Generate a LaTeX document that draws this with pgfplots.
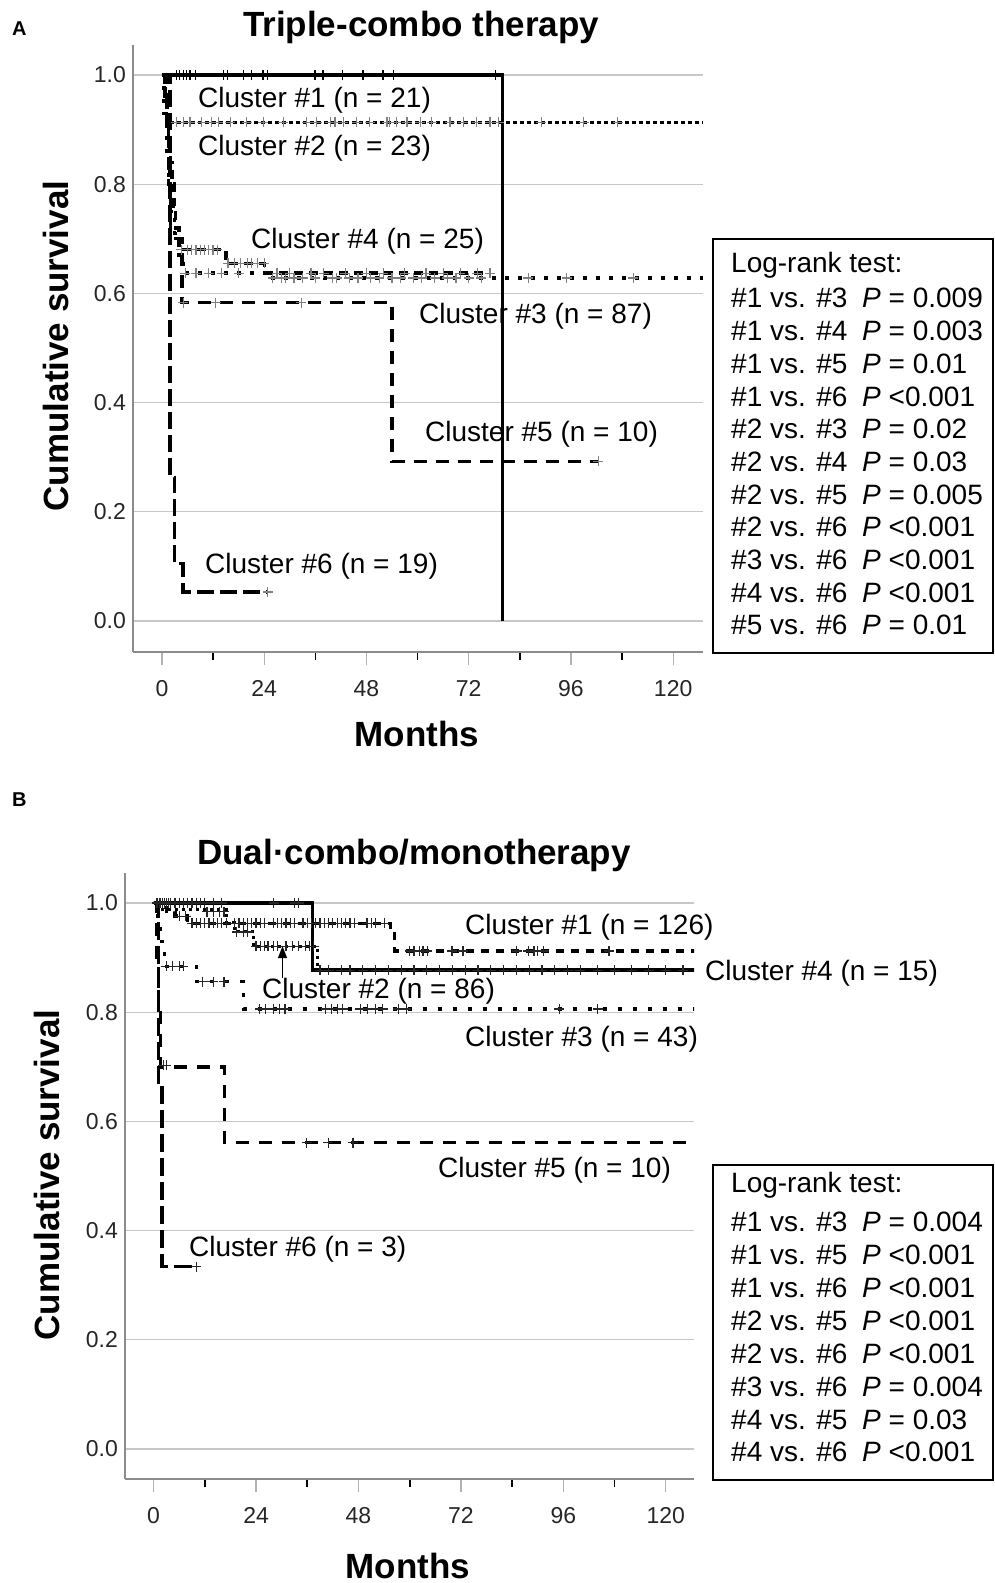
\documentclass[border=0pt]{standalone}
\usepackage{fontspec}
\setmainfont{Liberation Sans}
\usepackage{pgfplots}
\pgfplotsset{compat=1.18}
\usetikzlibrary{arrows.meta}

\newcommand{\fs}[1]{\fontsize{#1pt}{#1pt}\selectfont}

% common look of both survival panels (1pt = 1px of the reference)
\pgfplotsset{
  km/.style={
    scale only axis,
    axis x line*=bottom, axis y line*=left,
    axis line style={-, draw=black!45, line width=1.6pt},
    xtick={0,24,48,72,96,120}, minor xtick={12,36,60,84,108},
    ytick={0,0.2,0.4,0.6,0.8,1.0},
    ymajorgrids, grid style={black!22, line width=1.3pt},
    tick align=outside, major tick length=13pt, minor tick length=8pt,
    major x tick style={draw=black!30, line width=1.3pt},
    minor x tick style={draw=black, line width=1.6pt},
    y tick style={draw=none},
    tick label style={font=\fs{23}, text=black!85, inner sep=0pt},
    /pgf/number format/assume math mode=true,
    y tick label style={/pgf/number format/fixed, /pgf/number format/fixed zerofill, /pgf/number format/precision=1},
    xticklabel shift=15pt, yticklabel shift=-6pt,
  },
  step/.style={const plot, black, line width=3.4pt, line cap=butt, line join=miter},
  cens/.style={only marks, mark=+, mark size=5pt, mark options={solid, line width=1.2pt}, #1},
  cens/.default={black!50},
}

\begin{document}
\begin{tikzpicture}

% ---------------- panel A ----------------
\begin{axis}[km, at={(133pt,931pt)}, anchor=south west, width=570pt, height=607pt,
  xmin=-6.8, xmax=127, ymin=-0.057, ymax=1.055]
% cluster 1
\addplot[step] coordinates {(0,1) (80,0)};
% cluster 2
\addplot[step, dash pattern=on 4pt off 3pt, line width=2.8pt] coordinates {(0,1) (0.5,0.957) (1.2,0.913) (127,0.913)};
% cluster 3
\addplot[step, dash pattern=on 4pt off 9pt] coordinates {(0,1) (0.5,0.93) (1,0.86) (1.5,0.80) (2,0.75) (3,0.71) (4,0.67) (5,0.637) (25,0.628) (127,0.628)};
% cluster 4
\addplot[step, dash pattern=on 9pt off 6pt] coordinates {(0,1) (0.7,0.96) (1.2,0.92) (1.6,0.88) (2,0.84) (2.4,0.80) (2.8,0.76) (3.2,0.72) (4,0.68) (15,0.655) (24,0.637) (77,0.637)};
% cluster 5
\addplot[step, dash pattern=on 13pt off 9pt] coordinates {(0,1) (1,0.9) (1.5,0.8) (2,0.7) (4.7,0.583) (54,0.292) (102.4,0.292)};
% cluster 6
\addplot[step, dash pattern=on 17pt off 6pt] coordinates {(0,1) (1.9,0.263) (3,0.105) (4.9,0.053) (24.8,0.053)};
% censoring marks
\addplot[cens=black] coordinates {(3.4,1) (4.2,1) (5.0,1) (5.8,1) (6.6,1) (7.8,1) (14.4,1) (15.3,1) (19.1,1) (21.1,1) (23.7,1) (24.7,1) (35.9,1) (37.8,1) (42.3,1) (47.2,1) (51.9,1) (54.3,1) (78.2,1)};
\addplot[cens] coordinates {(3.4,0.913) (5.0,0.913) (6.6,0.913) (9.3,0.913) (11.7,0.913) (13.2,0.913) (16.0,0.913) (19.9,0.913) (23.8,0.913) (28.5,0.913) (34.0,0.913) (36.3,0.913) (39.5,0.913) (40.6,0.913) (42.6,0.913) (45.7,0.913) (48.8,0.913) (52.8,0.913) (53.5,0.913) (55.0,0.913) (57.5,0.913) (60.6,0.913) (63.3,0.913) (67.6,0.913) (70.7,0.913) (73.9,0.913) (77.0,0.913) (79.0,0.913) (89,0.913) (99,0.913) (107,0.913)};
\addplot[cens] coordinates {(5.5,0.637) (8,0.637) (11,0.637) (14,0.637) (18,0.637) (26,0.628) (28,0.628) (29,0.628) (31,0.628) (33,0.628) (36,0.628) (40,0.628) (41,0.628) (44,0.628) (46,0.628) (49,0.628) (51,0.628) (54,0.628) (56,0.628) (59,0.628) (61,0.628) (64,0.628) (67,0.628) (69,0.628) (72,0.628) (75,0.628) (86,0.628) (95,0.628) (110.6,0.628)};
\addplot[cens] coordinates {(4.5,0.68) (6,0.68) (7,0.68) (8,0.68) (9,0.68) (10,0.68) (11,0.68) (12,0.68) (13,0.68) (15.5,0.655) (17,0.655) (18.5,0.655) (20,0.655) (21,0.655) (22.5,0.655) (24,0.655) (27,0.637) (30,0.637) (35,0.637) (38,0.637) (43,0.637) (48,0.637) (52,0.637) (57,0.637) (62,0.637) (66,0.637) (70,0.637) (74,0.637) (77,0.637)};
\addplot[cens] coordinates {(5,0.583) (12.6,0.583) (32.7,0.583) (102.4,0.292)};
\addplot[cens] coordinates {(24.8,0.053)};
\end{axis}

% ---------------- panel B ----------------
\begin{axis}[km, at={(125pt,104pt)}, anchor=south west, width=569pt, height=606pt,
  xmin=-6.7, xmax=126.6, ymin=-0.055, ymax=1.055]
% cluster 4
\addplot[step] coordinates {(0,1) (37.2,0.877) (127,0.877)};
% cluster 1
\addplot[step, dash pattern=on 8pt off 7pt] coordinates {(0,1) (1,0.992) (3,0.984) (5,0.976) (8,0.963) (55.5,0.95) (56.5,0.912) (127,0.912)};
% cluster 2
\addplot[step, dash pattern=on 3pt off 4pt, line width=3pt] coordinates {(0,1) (2,0.988) (17,0.965) (19,0.947) (23.5,0.921) (38.5,0.877) (127,0.877)};
% cluster 3
\addplot[step, dash pattern=on 4pt off 11pt] coordinates {(0,1) (0.5,0.977) (1,0.953) (1.5,0.93) (2,0.907) (2.5,0.884) (10,0.856) (21,0.806) (127,0.806)};
% cluster 5
\addplot[step, dash pattern=on 13pt off 10pt] coordinates {(0,1) (0.8,0.9) (1.2,0.8) (1.6,0.7) (16.6,0.561) (127,0.561)};
% cluster 6
\addplot[step, dash pattern=on 18pt off 6pt] coordinates {(0,1) (1.2,0.667) (2,0.334) (10,0.334)};
% censoring marks
\addplot[cens=black!85] coordinates {(0.8,1) (1.5,1) (2,1) (2.5,1) (3,1) (3.5,1) (4,1) (5,1) (6,1) (7,1) (8,1) (9,1) (10,1) (11,1) (12,1) (14,1) (16,1) (28.1,1) (33.1,1) (34,1)};
\addplot[cens=black!85] coordinates {(39,0.877) (41,0.877) (44,0.877) (46,0.877) (49,0.877) (52,0.877) (55,0.877) (58,0.877) (61,0.877) (64,0.877) (67,0.877) (70,0.877) (73,0.877) (76,0.877) (79,0.877) (82,0.877) (85,0.877) (88,0.877) (91,0.877) (94,0.877) (97,0.877) (100,0.877) (104,0.877) (108,0.877) (112,0.877) (116,0.877) (120,0.877) (124,0.877)};
\addplot[cens=black!85] coordinates {(6,0.976) (7.5,0.976) (9,0.963) (10,0.963) (11,0.963) (12,0.963) (13,0.963) (14,0.963) (15,0.963) (16,0.963) (17,0.963) (19,0.963) (20,0.963) (21,0.963) (22,0.963) (23,0.963) (24,0.963) (25,0.963) (26,0.963) (28,0.963) (29,0.963) (30,0.963) (31,0.963) (32,0.963) (33,0.963) (35,0.963) (36,0.963) (37,0.963) (38,0.963) (39,0.963) (40,0.963) (41,0.963) (42,0.963) (43,0.963) (44,0.963) (45,0.963) (46,0.963) (47,0.963) (50,0.963) (51,0.963) (52,0.963) (54,0.963)};
\addplot[cens=black!85] coordinates {(60,0.912) (61,0.912) (62.3,0.912) (63.1,0.912) (64.1,0.912) (69.9,0.912) (72.5,0.912) (85.1,0.912) (87.8,0.912) (89.1,0.912) (90,0.912) (91.4,0.912) (106.7,0.912)};
\addplot[cens=black!85] coordinates {(12.5,0.984) (14,0.984) (15.5,0.984) (16.5,0.984) (19.5,0.947) (21,0.947) (22,0.947) (24,0.921) (25,0.921) (26,0.921) (26.8,0.921) (28,0.921) (29,0.921) (31,0.921) (32.5,0.921) (34,0.921) (35.5,0.921) (36.5,0.921) (37.5,0.921)};
\addplot[cens=black!85] coordinates {(3,0.884) (4.5,0.884) (6,0.884) (7,0.884) (11.5,0.856) (14,0.856) (16.5,0.856) (24.9,0.806) (26.3,0.806) (28.1,0.806) (29.5,0.806) (30.8,0.806) (40.3,0.806) (41.6,0.806) (43,0.806) (44.3,0.806) (48.4,0.806) (50.1,0.806) (51.9,0.806) (53.7,0.806) (57.3,0.806) (59.2,0.806) (95,0.806) (104,0.806)};
\addplot[cens=black!85] coordinates {(2.3,0.703) (3,0.703) (35.9,0.561) (40.9,0.561) (46.7,0.561) (10,0.334)};
\draw[-{Triangle[length=12pt,width=9pt]}, line width=1.3pt] (axis cs:30.2,0.863) -- (axis cs:30.2,0.921);
\end{axis}

% ---------------- texts ----------------
\node[anchor=base west, inner sep=0pt, font=\fs{20}\bfseries] at (12pt,1547pt) {A};
\node[anchor=base west, inner sep=0pt, font=\fs{20}\bfseries] at (12pt,776pt) {B};
\node[anchor=base, inner sep=0pt, font=\fs{35}\bfseries] at (421pt,1546pt) {Triple-combo therapy};
\node[anchor=base, inner sep=0pt, font=\fs{35}\bfseries] at (414pt,718pt) {Dual·combo/monotherapy};
\node[rotate=90, inner sep=0pt, font=\fs{35}\bfseries] at (56pt,1237pt) {Cumulative survival};
\node[rotate=90, inner sep=0pt, font=\fs{35}\bfseries] at (47pt,408pt) {Cumulative survival};
\node[anchor=base, inner sep=0pt, font=\fs{35}\bfseries] at (417pt,836pt) {Months};
\node[anchor=base, inner sep=0pt, font=\fs{35}\bfseries] at (408pt,5pt) {Months};

\begin{scope}[every node/.style={anchor=base west, inner sep=0pt, font=\fs{28}}]
\node at (198pt,1475pt) {Cluster \#1 (n = 21)};
\node at (198pt,1427pt) {Cluster \#2 (n = 23)};
\node at (251pt,1334pt) {Cluster \#4 (n = 25)};
\node at (419pt,1259pt) {Cluster \#3 (n = 87)};
\node at (425pt,1141pt) {Cluster \#5 (n = 10)};
\node at (205pt,1009pt) {Cluster \#6 (n = 19)};
\node at (465pt,648pt) {Cluster \#1 (n = 126)};
\node at (705pt,602.5pt) {Cluster \#4 (n = 15)};
\node at (262pt,584pt) {Cluster \#2 (n = 86)};
\node at (465pt,536pt) {Cluster \#3 (n = 43)};
\node at (438pt,405pt) {Cluster \#5 (n = 10)};
\node at (189pt,326pt) {Cluster \#6 (n = 3)};
% log-rank box A
\node at (731pt,1310pt) {Log-rank test:};
\node at (731pt,1275pt) {\#1 vs. \#3};   \node at (862pt,1275pt) {\textit{P} = 0.009};
\node at (731pt,1242.3pt) {\#1 vs. \#4}; \node at (862pt,1242.3pt) {\textit{P} = 0.003};
\node at (731pt,1209.6pt) {\#1 vs. \#5}; \node at (862pt,1209.6pt) {\textit{P} = 0.01};
\node at (731pt,1176.9pt) {\#1 vs. \#6}; \node at (862pt,1176.9pt) {\textit{P} <0.001};
\node at (731pt,1144.2pt) {\#2 vs. \#3}; \node at (862pt,1144.2pt) {\textit{P} = 0.02};
\node at (731pt,1111.5pt) {\#2 vs. \#4}; \node at (862pt,1111.5pt) {\textit{P} = 0.03};
\node at (731pt,1078.8pt) {\#2 vs. \#5}; \node at (862pt,1078.8pt) {\textit{P} = 0.005};
\node at (731pt,1046.1pt) {\#2 vs. \#6}; \node at (862pt,1046.1pt) {\textit{P} <0.001};
\node at (731pt,1013.4pt) {\#3 vs. \#6}; \node at (862pt,1013.4pt) {\textit{P} <0.001};
\node at (731pt,980.7pt) {\#4 vs. \#6};  \node at (862pt,980.7pt) {\textit{P} <0.001};
\node at (731pt,948pt) {\#5 vs. \#6};    \node at (862pt,948pt) {\textit{P} = 0.01};
% log-rank box B
\node at (731pt,390pt) {Log-rank test:};
\node at (731pt,351pt) {\#1 vs. \#3};    \node at (862pt,351pt) {\textit{P} = 0.004};
\node at (731pt,318.1pt) {\#1 vs. \#5};  \node at (862pt,318.1pt) {\textit{P} <0.001};
\node at (731pt,285.3pt) {\#1 vs. \#6};  \node at (862pt,285.3pt) {\textit{P} <0.001};
\node at (731pt,252.4pt) {\#2 vs. \#5};  \node at (862pt,252.4pt) {\textit{P} <0.001};
\node at (731pt,219.6pt) {\#2 vs. \#6};  \node at (862pt,219.6pt) {\textit{P} <0.001};
\node at (731pt,186.7pt) {\#3 vs. \#6};  \node at (862pt,186.7pt) {\textit{P} = 0.004};
\node at (731pt,153.8pt) {\#4 vs. \#5};  \node at (862pt,153.8pt) {\textit{P} = 0.03};
\node at (731pt,121pt) {\#4 vs. \#6};    \node at (862pt,121pt) {\textit{P} <0.001};
\end{scope}
\draw[line width=2pt] (713pt,930pt) rectangle (993pt,1344pt);
\draw[line width=2pt] (713pt,103pt) rectangle (993pt,418pt);

\pgfresetboundingbox
\path[use as bounding box] (0pt,0pt) rectangle (994pt,1583pt);
\end{tikzpicture}
\end{document}
